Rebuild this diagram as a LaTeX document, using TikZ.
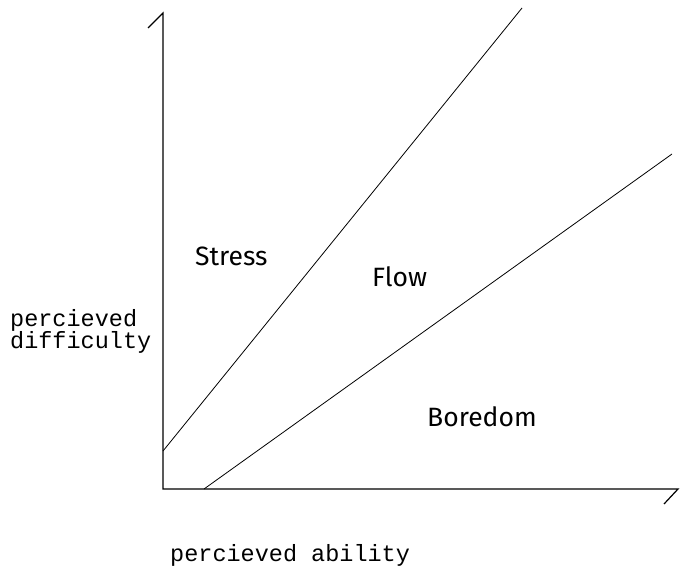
\documentclass[tikz,border=0pt]{standalone}
\usepackage{fontspec}
\newfontfamily\regionfont{Fira Sans}
\newfontfamily\axisfont{Liberation Mono}
\begin{document}
\begin{tikzpicture}[x=1bp,y=-1bp,
  axisline/.style={line width=1.2bp, line join=miter},
  zoneline/.style={line width=0.8bp},
  region/.style={font=\regionfont\fontsize{26.5bp}{30bp}\selectfont, anchor=base west, inner sep=0pt},
  axislabel/.style={font=\axisfont\fontsize{23.5bp}{22bp}\selectfont, anchor=base west, inner sep=0pt, align=left}]
\useasboundingbox (0,0) rectangle (687,568);
\coordinate (O) at (163,489);
\coordinate (Ytop) at (163,13);
\coordinate (Ytick) at (148,28);
\coordinate (Xend) at (678,489);
\coordinate (Xtick) at (664,504);
\coordinate (A1) at (163,451);
\coordinate (A2) at (522,8);
\coordinate (B1) at (204,489);
\coordinate (B2) at (672,154);
\draw[axisline] (Ytick) -- (Ytop) -- (O) -- (Xend) -- (Xtick);
\draw[zoneline] (A1) -- (A2);
\draw[zoneline] (B1) -- (B2);
\node[region] (stress) at (195,265) {Stress};
\node[region] (flow) at (372,286) {Flow};
\node[region] (boredom) at (427,426) {Boredom};
\node[axislabel] (ylab) at (10,348) {percieved\\difficulty};
\node[axislabel] (xlab) at (170,561) {percieved ability};
\end{tikzpicture}
\end{document}
